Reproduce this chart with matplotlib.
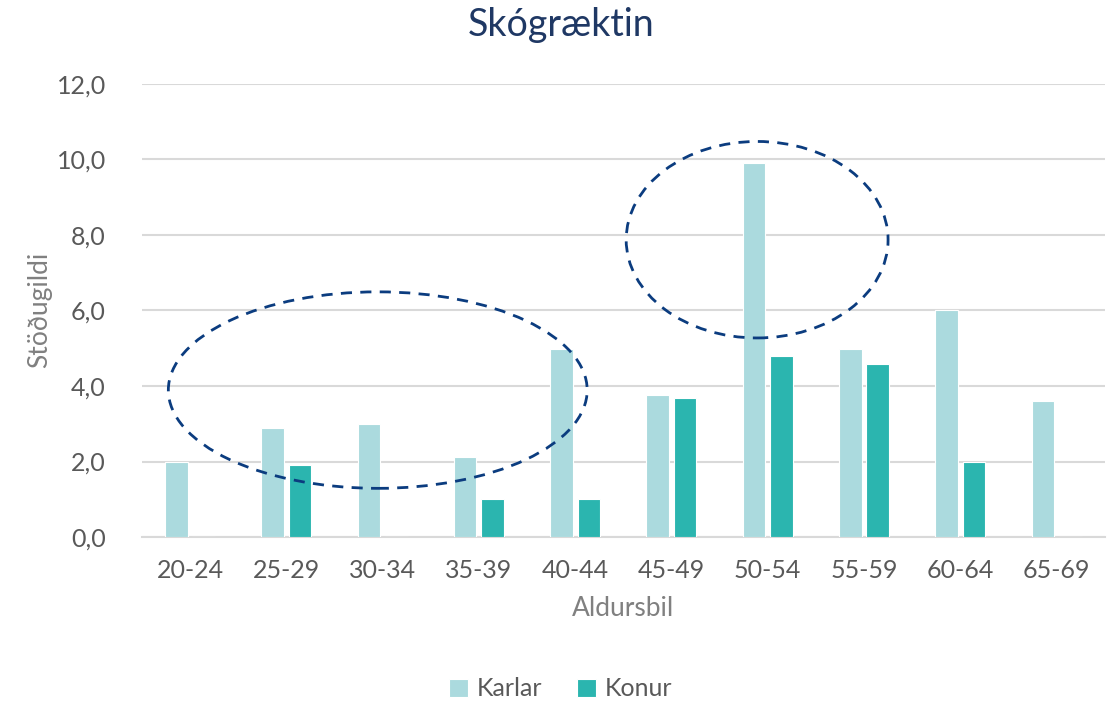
import matplotlib.pyplot as plt
import numpy as np
from matplotlib.patches import Ellipse

plt.rcParams['font.family'] = ['Lato', 'DejaVu Sans']

aldursbil = ['20-24', '25-29', '30-34', '35-39', '40-44',
             '45-49', '50-54', '55-59', '60-64', '65-69']
karlar = [2.0, 2.9, 3.0, 2.12, 4.97, 3.76, 9.9, 4.98, 6.0, 3.6]
konur = [0.0, 1.9, 0.0, 1.0, 1.0, 3.68, 4.79, 4.58, 2.0, 0.0]

# highlighted regions (x centre, y centre, width, height) in data units
ellipses = [(1.95, 3.89, 4.35, 5.2), (5.89, 7.87, 2.72, 5.2)]

fig = plt.figure(figsize=(11.17, 7.03), dpi=100)
ax = fig.add_axes([0.127, 0.236, 0.862, 0.645])

x = np.arange(len(aldursbil))
w = 0.235
off = 0.142
ax.bar(x - off, karlar, w, color='#ABDADE', edgecolor='white', linewidth=0.8,
       label='Karlar', zorder=3)
ax.bar(x + off, konur, w, color='#2BB5AF', edgecolor='white', linewidth=0.8,
       label='Konur', zorder=3)

for cx, cy, ew, eh in ellipses:
    ax.add_patch(Ellipse((cx, cy), ew, eh, fill=False, edgecolor='#0B3C7F',
                         linewidth=2, linestyle=(0, (4, 3)), zorder=4))

ax.set_xlim(-0.5, 9.5)
ax.set_ylim(0, 12)
ax.set_yticks(np.arange(0, 12.1, 2))
ax.set_yticklabels([f'{v:.1f}'.replace('.', ',') for v in np.arange(0, 12.1, 2)])
ax.set_xticks(x)
ax.set_xticklabels(aldursbil)
ax.tick_params(axis='both', length=0, labelsize=18, labelcolor='#595959')
ax.tick_params(axis='y', pad=26)
ax.tick_params(axis='x', pad=16)
ax.grid(axis='y', color='#D9D9D9', linewidth=1.5, zorder=0)
ax.set_axisbelow(True)
for s in ['top', 'right', 'left']:
    ax.spines[s].set_visible(False)
ax.spines['bottom'].set_color('#D9D9D9')
ax.spines['bottom'].set_linewidth(1.5)

ax.set_xlabel('Aldursbil', fontsize=19, color='#808080', labelpad=10)
ax.set_ylabel('Stöðugildi', fontsize=19, color='#808080', labelpad=3)
fig.suptitle('Skógræktin', fontsize=27, color='#1F3864', x=0.502, y=0.99,
             va='top')

ax.legend(loc='center', bbox_to_anchor=(0.435, -0.335), ncol=2, frameon=False,
          fontsize=18, labelcolor='#595959', handlelength=0.75, handleheight=0.75,
          handletextpad=0.35, columnspacing=1.4)

fig.savefig('out.png', dpi=100)
